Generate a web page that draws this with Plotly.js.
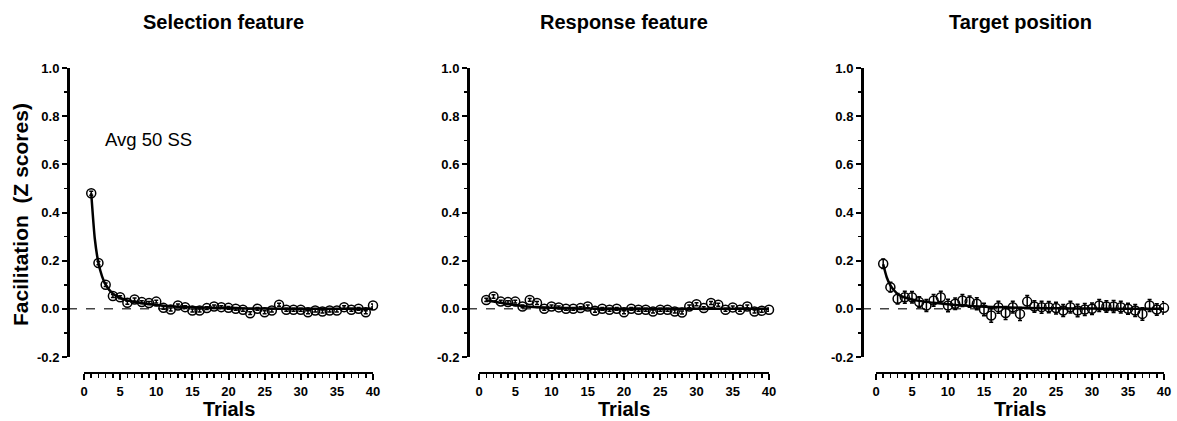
<!DOCTYPE html>
<html>
<head>
<meta charset="utf-8">
<script src="https://cdn.plot.ly/plotly-3.0.1.min.js"></script>
<style>html,body{margin:0;padding:0;background:#fff;}#chart{width:1177px;height:421px;}</style>
</head>
<body>
<div id="chart"></div>
<script>
// ---- Data ----
const panelTitles = ["Selection feature", "Response feature", "Target position"];
const trials = [1,2,3,4,5,6,7,8,9,10,11,12,13,14,15,16,17,18,19,20,21,22,23,24,25,26,27,28,29,30,31,32,33,34,35,36,37,38,39,40];

const selection = [0.48,0.19,0.10,0.053,0.048,0.025,0.039,0.028,0.024,0.030,0.004,-0.003,0.014,0.007,-0.007,-0.007,0.003,0.010,0.007,0.004,0.000,-0.004,-0.018,0.000,-0.014,-0.007,0.017,-0.004,-0.004,-0.004,-0.014,-0.007,-0.011,-0.007,-0.007,0.007,-0.004,0.000,-0.014,0.014];
const selectionErr = [0.008,0.007,0.007,0.006,0.006,0.006,0.006,0.006,0.006,0.006,0.006,0.006,0.006,0.006,0.006,0.006,0.006,0.006,0.006,0.006,0.006,0.006,0.006,0.006,0.006,0.006,0.006,0.006,0.006,0.006,0.006,0.006,0.006,0.006,0.006,0.006,0.006,0.006,0.006,0.006];

const response = [0.037,0.051,0.030,0.028,0.030,0.010,0.037,0.024,0.000,0.010,0.006,0.000,0.000,0.003,0.010,-0.008,0.000,-0.004,0.000,-0.014,0.000,-0.004,-0.004,-0.011,-0.004,-0.004,-0.011,-0.015,0.010,0.019,0.003,0.024,0.017,-0.004,0.006,-0.004,0.010,-0.011,-0.008,-0.004];
const responseErr = [0.007,0.007,0.006,0.006,0.006,0.006,0.006,0.006,0.006,0.006,0.006,0.006,0.006,0.006,0.006,0.006,0.006,0.006,0.006,0.006,0.006,0.006,0.006,0.006,0.006,0.006,0.006,0.006,0.006,0.006,0.006,0.006,0.006,0.006,0.006,0.006,0.006,0.006,0.006,0.006];

const target = [0.187,0.090,0.042,0.048,0.048,0.028,0.014,0.035,0.048,0.014,0.021,0.035,0.030,0.021,-0.003,-0.028,0.007,-0.017,0.007,-0.021,0.030,0.010,0.007,0.007,0.003,-0.007,0.007,-0.007,-0.003,0.000,0.014,0.010,0.010,0.007,0.000,-0.007,-0.021,0.014,-0.003,0.004];
const targetErr = [0.02,0.02,0.022,0.025,0.024,0.022,0.025,0.024,0.025,0.026,0.024,0.025,0.023,0.025,0.026,0.028,0.025,0.027,0.024,0.027,0.025,0.024,0.025,0.023,0.024,0.025,0.024,0.026,0.025,0.024,0.025,0.024,0.025,0.024,0.023,0.025,0.026,0.025,0.024,0.025];

// fitted decay curves
const fitTrials = [1,1.5,2,2.5,3,4,5,6,7,8,10,12,15,20,25,30,35,40];
const selectionFit = [0.48,0.29,0.19,0.135,0.10,0.063,0.045,0.035,0.028,0.023,0.016,0.011,0.007,0.003,0.001,0,0,0];
const responseFit = [0.036,0.033,0.030,0.027,0.025,0.020,0.016,0.012,0.009,0.007,0.004,0.002,0.001,0,0,0,0,0];
const targetFit = [0.185,0.13,0.097,0.077,0.062,0.047,0.039,0.033,0.029,0.025,0.019,0.014,0.009,0.004,0.002,0.001,0,0];

const yTickVals = [-0.2,0,0.2,0.4,0.6,0.8,1.0];
const yTickText = ["-0.2","0.0","0.2","0.4","0.6","0.8","1.0"];
const xTickVals = [0,5,10,15,20,25,30,35,40];
const yTitle = "Facilitation  (Z scores)";
const xTitle = "Trials";
const note = "Avg 50 SS";

// ---- Layout geometry (pixels) ----
const W = 1177, H = 421;
const px = v => v / W;
const py = v => (H - v) / H;
const panels = [
  {x0: 84, x1: 373, yaxisX: 68, titleX: 223},
  {x0: 479, x1: 769, yaxisX: 468, titleX: 624},
  {x0: 876, x1: 1164, yaxisX: 862, titleX: 1020}
];
const yTop = 68, yBot = 357, xAxisY = 373;

const series = [[selection, selectionErr, selectionFit], [response, responseErr, responseFit], [target, targetErr, targetFit]];
const font = "Liberation Sans, Arial, sans-serif";

const data = [];
const layout = {
  width: W, height: H,
  margin: {l: 0, r: 0, t: 0, b: 0},
  paper_bgcolor: "#fff", plot_bgcolor: "rgba(0,0,0,0)",
  showlegend: false,
  font: {family: font, color: "#000"},
  shapes: [], annotations: []
};

panels.forEach((p, i) => {
  const sx = i === 0 ? "" : String(i + 1);
  const [vals, errs, fit] = series[i];
  data.push({
    x: fitTrials, y: fit, xaxis: "x" + sx, yaxis: "y" + sx,
    mode: "lines", line: {color: "#000", width: 2.5, shape: "spline", smoothing: 0.6},
    hoverinfo: "skip", cliponaxis: false
  });
  data.push({
    x: trials, y: vals, xaxis: "x" + sx, yaxis: "y" + sx,
    mode: "markers", cliponaxis: false,
    marker: {symbol: "circle-open", size: 9, color: "#000", line: {color: "#000", width: 1.5}},
    error_y: {type: "data", array: errs, visible: true, color: "#000", thickness: 1.5, width: 2}
  });
  layout["xaxis" + sx] = {
    domain: [px(p.x0), px(p.x1)], range: [0, 40], anchor: "free", position: py(xAxisY),
    showline: true, linewidth: 2, linecolor: "#000", mirror: false,
    ticks: "outside", ticklen: 6, tickwidth: 2, tickcolor: "#000",
    tickvals: xTickVals, showgrid: false, zeroline: false,
    minor: {dtick: 1, tick0: 0, ticks: "outside", ticklen: 4, tickwidth: 1.5, tickcolor: "#000", showgrid: false},
    tickfont: {family: font, size: 13, weight: "bold", color: "#000"}
  };
  layout["yaxis" + sx] = {
    domain: [py(yBot), py(yTop)], range: [-0.2, 1.0], anchor: "free", position: px(p.yaxisX),
    showline: true, linewidth: 2.5, linecolor: "#000",
    ticks: "outside", ticklen: 5, tickwidth: 2, tickcolor: "#000",
    tickvals: yTickVals, ticktext: yTickText, showgrid: false, zeroline: false,
    minor: {dtick: 0.1, tick0: 0, ticks: "outside", ticklen: 3, tickwidth: 1.5, tickcolor: "#000", showgrid: false},
    tickfont: {family: font, size: 13, weight: "bold", color: "#000"}
  };
  layout.shapes.push({
    type: "line", xref: "paper", yref: "y" + sx, x0: px(p.yaxisX), x1: px(p.x1), y0: 0, y1: 0,
    line: {color: "#444", width: 1.5, dash: "dash"}, layer: "below"
  });
  layout.annotations.push({
    text: panelTitles[i], xref: "paper", yref: "paper", x: px(p.titleX), y: py(22),
    xanchor: "center", yanchor: "middle", showarrow: false,
    font: {family: font, size: 20, weight: "bold", color: "#000"}
  });
  layout.annotations.push({
    text: xTitle, xref: "paper", yref: "paper", x: px((p.x0 + p.x1) / 2), y: py(409),
    xanchor: "center", yanchor: "middle", showarrow: false,
    font: {family: font, size: 20, weight: "bold", color: "#000"}
  });
});

layout.annotations.push({
  text: yTitle, xref: "paper", yref: "paper", x: px(21), y: py(215),
  xanchor: "center", yanchor: "middle", textangle: -90, showarrow: false,
  font: {family: font, size: 21, weight: "bold", color: "#000"}
});
layout.annotations.push({
  text: note, xref: "paper", yref: "paper", x: px(103), y: py(139),
  xanchor: "left", yanchor: "middle", showarrow: false,
  font: {family: font, size: 18.5, color: "#000"}
});

Plotly.newPlot("chart", data, layout, {displayModeBar: false, staticPlot: true});
</script>
</body>
</html>
